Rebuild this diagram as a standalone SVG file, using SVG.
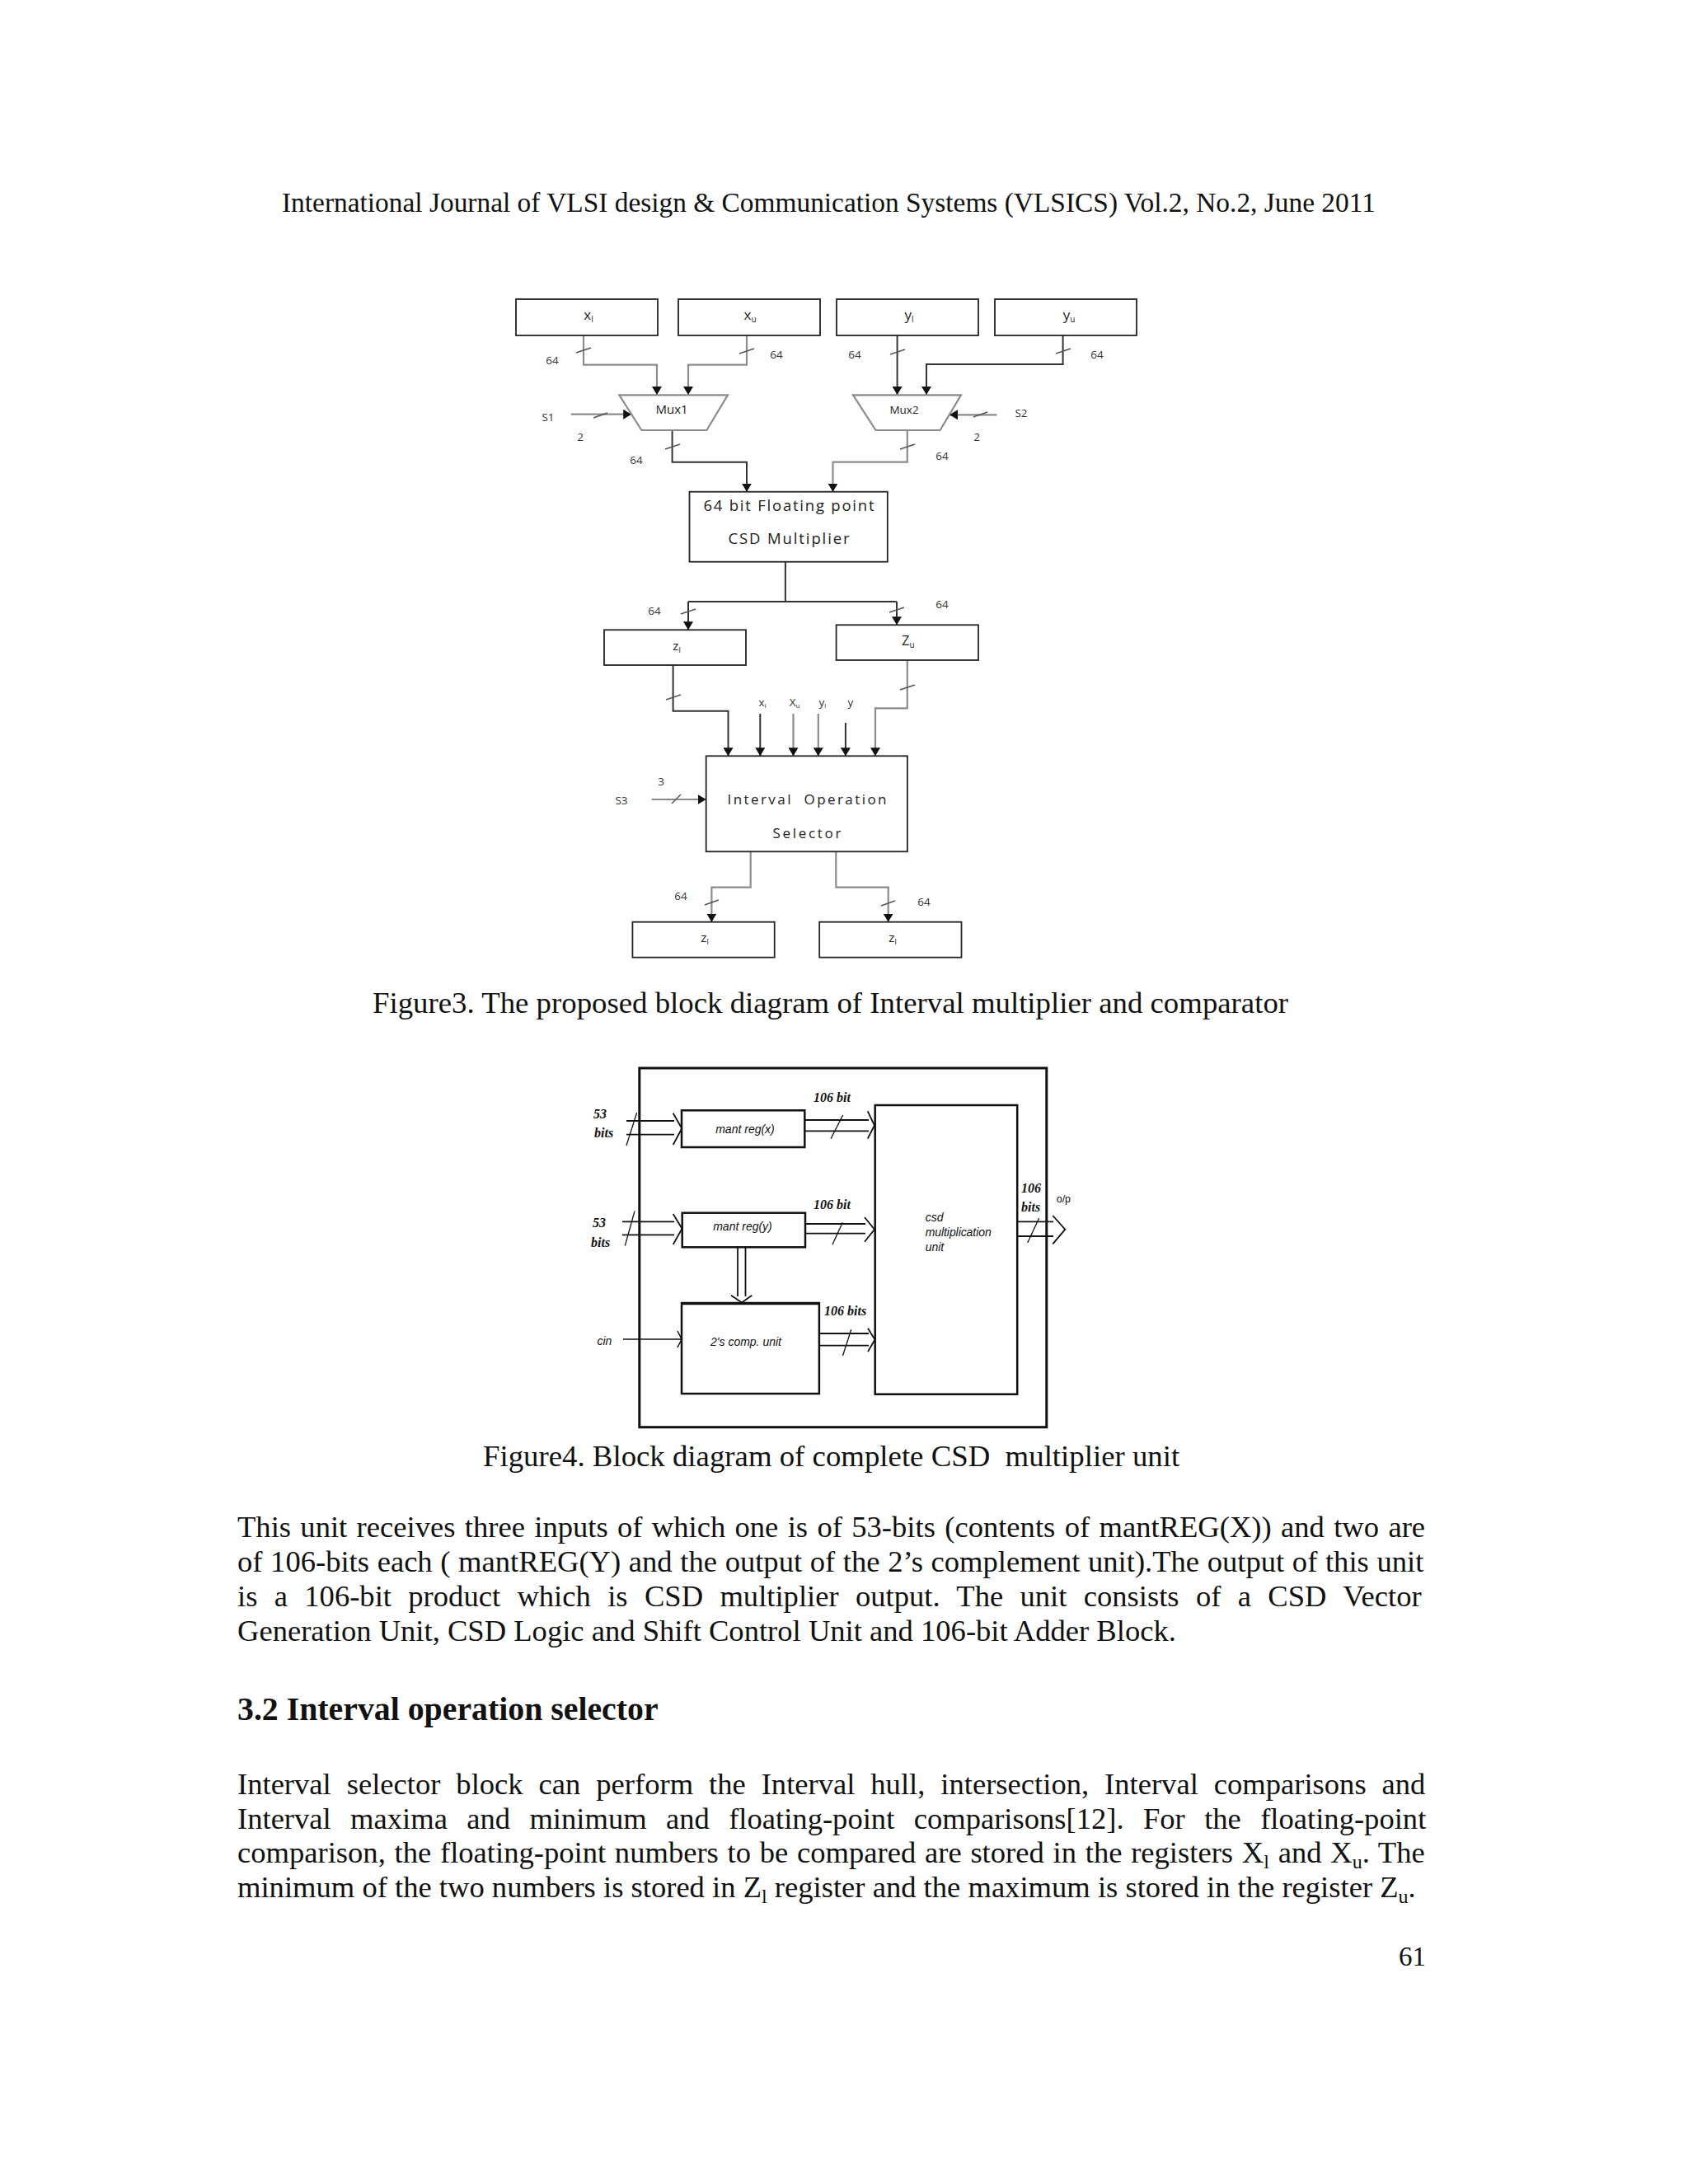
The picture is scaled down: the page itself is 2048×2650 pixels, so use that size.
<svg xmlns="http://www.w3.org/2000/svg" width="2048" height="2650" viewBox="0 0 2048 2650">
<defs>
<marker id="ah" viewBox="0 0 10 12" refX="10" refY="6" markerWidth="10" markerHeight="12" markerUnits="userSpaceOnUse" orient="auto"><path d="M0,0 L10,6 L0,12 z" fill="#111"/></marker>
</defs>
<style>
.pg{font-family:"Liberation Serif","Times New Roman",serif;fill:#111}
.body{font-size:36.6px}
.cap{font-size:36.8px}
.f3{font-family:"Open Sans","Liberation Sans",sans-serif;fill:#222}
.lb{font-family:"Open Sans","Liberation Sans",sans-serif;fill:#333;font-size:13.5px;text-anchor:middle}
.box{fill:#fff;stroke:#222;stroke-width:1.8}
.g{fill:none;stroke:#8c8c8c;stroke-width:2.2}
.d{fill:none;stroke:#333;stroke-width:2}
.sl{stroke:#555;stroke-width:1.5}
.f4{fill:none;stroke:#111;stroke-width:1.8}
.f4box{fill:#fff;stroke:#111;stroke-width:2.5}
.f4t{font-family:"Liberation Sans",Arial,sans-serif;font-style:italic;fill:#111;font-size:14px}
.f4b{font-family:"Liberation Serif",serif;font-style:italic;font-weight:bold;fill:#111;font-size:16px}
</style>
<rect width="2048" height="2650" fill="#fff"/>

<!-- page text -->
<text class="pg" x="342" y="257" font-size="33.4">International Journal of VLSI design &amp; Communication Systems (VLSICS) Vol.2, No.2, June 2011</text>
<text class="pg cap" x="452" y="1229">Figure3. The proposed block diagram of Interval multiplier and comparator</text>
<text class="pg cap" x="586" y="1779" xml:space="preserve">Figure4. Block diagram of complete CSD  multiplier unit</text>

<text class="pg body" x="288" y="1865" word-spacing="2.2">This unit receives three inputs of which one is of 53-bits (contents of mantREG(X)) and two are</text>
<text class="pg body" x="288" y="1907" word-spacing="0.5">of 106-bits each ( mantREG(Y) and the output of the 2’s complement unit).The output of this unit</text>
<text class="pg body" x="288" y="1949" word-spacing="11.2">is a 106-bit product which is CSD multiplier output. The unit consists of a CSD Vector</text>
<text class="pg body" x="288" y="1991">Generation Unit, CSD Logic and Shift Control Unit and 106-bit Adder Block.</text>

<text class="pg" x="288" y="2087" font-size="39.8" font-weight="bold">3.2 Interval operation selector</text>

<text class="pg body" x="288" y="2177" word-spacing="9.8">Interval selector block can perform the Interval hull, intersection, Interval comparisons and</text>
<text class="pg body" x="288" y="2218.5" word-spacing="14.2">Interval maxima and minimum and floating-point comparisons[12]. For the floating-point</text>
<text class="pg body" x="288" y="2260" word-spacing="1.6">comparison, the floating-point numbers to be compared are stored in the registers X<tspan font-size="24" dy="7">l</tspan><tspan dy="-7"> and X</tspan><tspan font-size="24" dy="7">u</tspan><tspan dy="-7">. The</tspan></text>
<text class="pg body" x="288" y="2301.5">minimum of the two numbers is stored in Z<tspan font-size="24" dy="7">l</tspan><tspan dy="-7"> register and the maximum is stored in the register Z</tspan><tspan font-size="24" dy="7">u</tspan><tspan dy="-7">.</tspan></text>

<text class="pg" x="1730" y="2385" font-size="33" text-anchor="end">61</text>

<!-- ================= Figure 3 ================= -->
<g id="fig3-connectors">
  <path class="g" d="M708,407 V442.7 H797 V479" marker-end="url(#ah)"/>
  <path class="g" d="M906,407 V442.7 H835 V479" marker-end="url(#ah)"/>
  <path class="d" d="M1088.6,407 V479" marker-end="url(#ah)"/>
  <path class="d" d="M1289.6,407 V442 H1124 V479" marker-end="url(#ah)"/>
  <path class="g" d="M692.7,502.7 H766.2" marker-end="url(#ah)"/>
  <path class="g" d="M1209.5,503.3 H1152" marker-end="url(#ah)"/>
  <path class="d" d="M815.6,522 V560.7 H906 V596.7" marker-end="url(#ah)"/>
  <path class="g" d="M1100.8,522 V560.7 H1010.5 V596.7" marker-end="url(#ah)"/>
  <path class="d" d="M952.9,681.7 V730 M835,730 H1088"/>
  <path class="d" d="M835,730 V764.3" marker-end="url(#ah)"/>
  <path class="d" d="M1088,730 V758.3" marker-end="url(#ah)"/>
  <path class="d" d="M816.6,807 V862.7 H883.5 V917.3" marker-end="url(#ah)"/>
  <path class="g" d="M1100.8,801 V859.3 H1062 V917.3" marker-end="url(#ah)"/>
  <path class="d" d="M922.3,866 V917.3" marker-end="url(#ah)"/>
  <path class="g" d="M962.5,866 V917.3" marker-end="url(#ah)"/>
  <path class="g" d="M992.8,866 V917.3" marker-end="url(#ah)"/>
  <path class="d" d="M1025.9,877 V917.3" marker-end="url(#ah)"/>
  <path class="g" d="M790.6,970 H856.7" marker-end="url(#ah)"/>
  <path class="g" d="M910.7,1033.3 V1076.7 H863.4 V1118.7" marker-end="url(#ah)"/>
  <path class="g" d="M1014.3,1033.3 V1076.7 H1077.7 V1118.7" marker-end="url(#ah)"/>
  <!-- bus slashes -->
  <g class="sl">
    <line x1="699" y1="428" x2="717" y2="422"/>
    <line x1="897" y1="429" x2="915" y2="423"/>
    <line x1="1080" y1="430" x2="1098" y2="424"/>
    <line x1="1281" y1="429" x2="1299" y2="423"/>
    <line x1="720" y1="507" x2="737" y2="501"/>
    <line x1="1181" y1="506" x2="1198" y2="500"/>
    <line x1="807" y1="545" x2="825" y2="539"/>
    <line x1="1092" y1="545" x2="1110" y2="539"/>
    <line x1="826" y1="745" x2="844" y2="739"/>
    <line x1="1079" y1="743" x2="1097" y2="737"/>
    <line x1="808" y1="849" x2="826" y2="843"/>
    <line x1="1092" y1="837" x2="1110" y2="831"/>
    <line x1="815" y1="975" x2="826" y2="964"/>
    <line x1="855" y1="1098" x2="872" y2="1092"/>
    <line x1="1069" y1="1099" x2="1086" y2="1093"/>
  </g>
  <!-- bus labels -->
  <text class="lb" x="670" y="442">64</text>
  <text class="lb" x="942" y="435">64</text>
  <text class="lb" x="1037" y="435">64</text>
  <text class="lb" x="1331" y="435">64</text>
  <text class="lb" x="665" y="511">S1</text>
  <text class="lb" x="704" y="535">2</text>
  <text class="lb" x="1239" y="506">S2</text>
  <text class="lb" x="1185" y="535">2</text>
  <text class="lb" x="772" y="563">64</text>
  <text class="lb" x="1143" y="558">64</text>
  <text class="lb" x="794" y="746">64</text>
  <text class="lb" x="1143" y="738">64</text>
  <text class="lb" x="754" y="976">S3</text>
  <text class="lb" x="802" y="953">3</text>
  <text class="lb" x="826" y="1092">64</text>
  <text class="lb" x="1121" y="1099">64</text>
  <text class="lb" x="925" y="857" font-size="12">x<tspan font-size="8" dy="2">l</tspan></text>
  <text class="lb" x="964" y="857" font-size="12">X<tspan font-size="8" dy="2">u</tspan></text>
  <text class="lb" x="998" y="857" font-size="12">y<tspan font-size="8" dy="2">l</tspan></text>
  <text class="lb" x="1032" y="857" font-size="12">y</text>
</g>

<g id="n-xl"><rect class="box" x="626" y="363" width="172" height="44"/><text class="f3" x="714" y="388" font-size="17" text-anchor="middle">x<tspan font-size="10" dy="3">l</tspan></text></g>
<g id="n-xu"><rect class="box" x="823" y="363" width="172" height="44"/><text class="f3" x="910" y="388" font-size="17" text-anchor="middle">x<tspan font-size="10" dy="3">u</tspan></text></g>
<g id="n-yl"><rect class="box" x="1015" y="363" width="172" height="44"/><text class="f3" x="1103" y="388" font-size="17" text-anchor="middle">y<tspan font-size="10" dy="3">l</tspan></text></g>
<g id="n-yu"><rect class="box" x="1207" y="363" width="172" height="44"/><text class="f3" x="1297" y="388" font-size="17" text-anchor="middle">y<tspan font-size="10" dy="3">u</tspan></text></g>

<g id="n-mux1"><path d="M751.3,479.3 H883 L857.4,522 H778.4 Z" fill="#fff" stroke="#8c8c8c" stroke-width="2.2"/><text class="f3" x="815" y="502" font-size="15" text-anchor="middle">Mux1</text></g>
<g id="n-mux2"><path d="M1035,479.3 H1166 L1140.6,522 H1062.5 Z" fill="#fff" stroke="#8c8c8c" stroke-width="2.2"/><text class="f3" x="1097" y="502" font-size="13.5" text-anchor="middle">Mux2</text></g>

<g id="n-mult"><rect class="box" x="836.5" y="596.7" width="240.3" height="85"/>
<text class="f3" x="957" y="620" font-size="18.5" text-anchor="middle" textLength="207">64 bit Floating point</text>
<text class="f3" x="957" y="660" font-size="18.5" text-anchor="middle" textLength="147">CSD Multiplier</text></g>

<g id="n-zl"><rect class="box" x="733" y="764.3" width="172" height="42.7"/><text class="f3" x="821" y="789" font-size="15" text-anchor="middle">z<tspan font-size="9" dy="3">l</tspan></text></g>
<g id="n-zu"><rect class="box" x="1014.6" y="758.3" width="172.4" height="42.7"/><text class="f3" x="1102" y="783" font-size="16" text-anchor="middle">Z<tspan font-size="10" dy="3">u</tspan></text></g>

<g id="n-sel"><rect class="box" x="856.7" y="917.3" width="244.2" height="116"/>
<text class="f3" x="979" y="976" font-size="17" text-anchor="middle" textLength="193" xml:space="preserve">Interval  Operation</text>
<text class="f3" x="979" y="1016.7" font-size="17" text-anchor="middle" textLength="83">Selector</text></g>

<g id="n-out-zl"><rect class="box" x="767.4" y="1118.7" width="172.3" height="43"/><text class="f3" x="855" y="1143" font-size="15" text-anchor="middle">z<tspan font-size="9" dy="3">l</tspan></text></g>
<g id="n-out-zl2"><rect class="box" x="994.2" y="1118.7" width="172.3" height="43"/><text class="f3" x="1083" y="1143" font-size="15" text-anchor="middle">z<tspan font-size="9" dy="3">l</tspan></text></g>

<!-- ================= Figure 4 ================= -->
<g id="n-outer"><rect x="775.8" y="1296" width="494" height="435.7" fill="none" stroke="#111" stroke-width="3"/></g>
<g id="n-csd"><rect class="f4box" x="1061.7" y="1341" width="172.5" height="350.7"/>
<text class="f4t" x="1122.7" y="1481.7">csd</text>
<text class="f4t" x="1122.7" y="1500" textLength="80">multiplication</text>
<text class="f4t" x="1122.7" y="1518.3">unit</text></g>
<g id="n-mantx"><rect class="f4box" x="827" y="1347.3" width="149.3" height="44.7"/><text class="f4t" x="904" y="1375" text-anchor="middle">mant reg(x)</text></g>
<g id="n-manty"><rect class="f4box" x="827.7" y="1471.7" width="149.3" height="41.6"/><text class="f4t" x="901" y="1493" text-anchor="middle">mant reg(y)</text></g>
<g id="n-twos"><rect class="f4box" x="827" y="1581" width="166.9" height="110"/><line x1="827" y1="1582" x2="993.9" y2="1582" stroke="#111" stroke-width="2.5"/><text class="f4t" x="905" y="1633" text-anchor="middle">2's comp. unit</text></g>

<g id="fig4-connectors" class="f4">
  <path d="M760,1360 H818 M760,1376.7 H818 M816.7,1350.7 L827.3,1369.3 L816.7,1389"/>
  <line x1="760" y1="1390" x2="772.7" y2="1350" stroke-width="1.3"/>
  <path d="M755,1482.3 H818 M755,1498.3 H818 M816.7,1473 L827.5,1490.7 L816.7,1510"/>
  <line x1="758.3" y1="1511.7" x2="770" y2="1469.3" stroke-width="1.3"/>
  <path d="M756,1625 H826 M822,1615 L827,1625 L822,1635" stroke-width="1.5"/>
  <path d="M976.3,1359 H1054 M976.3,1372.3 H1054 M1052.7,1348.3 L1061,1365.5 L1052.7,1381.7"/>
  <line x1="1008" y1="1381.7" x2="1022.7" y2="1353" stroke-width="1.3"/>
  <path d="M977,1485 H1050 M977,1496.7 H1050 M1049,1477 L1061,1491.7 L1049,1506.7"/>
  <line x1="1010" y1="1510" x2="1022.3" y2="1483.3" stroke-width="1.3"/>
  <path d="M895,1513.3 V1573 M904.5,1513.3 V1573 M887,1571.7 L900,1580.5 L912.3,1571.7"/>
  <path d="M993.9,1618 H1054 M993.9,1632.7 H1054 M1053,1611.7 L1061.5,1625.5 L1053,1640"/>
  <line x1="1022.5" y1="1645" x2="1032.7" y2="1613.3" stroke-width="1.3"/>
  <path d="M1234.2,1482.3 H1278 M1234.2,1500 H1278 M1277.3,1475 L1292.3,1491.7 L1277.3,1509.3"/>
  <line x1="1246.7" y1="1508" x2="1260.7" y2="1478" stroke-width="1.3"/>
</g>
<g id="fig4-labels">
  <text class="f4b" x="720" y="1357">53</text>
  <text class="f4b" x="721" y="1380" font-size="15">bits</text>
  <text class="f4b" x="719" y="1489">53</text>
  <text class="f4b" x="717" y="1513" font-size="15">bits</text>
  <text class="f4t" x="724.5" y="1632">cin</text>
  <text class="f4b" x="987" y="1337">106 bit</text>
  <text class="f4b" x="987" y="1467">106 bit</text>
  <text class="f4b" x="1000" y="1596">106 bits</text>
  <text class="f4b" x="1239" y="1447">106</text>
  <text class="f4b" x="1239" y="1470" font-size="15">bits</text>
  <text x="1281.7" y="1459.3" font-family="Liberation Sans, Arial, sans-serif" font-size="12.5" fill="#111">o/p</text>
</g>
</svg>
